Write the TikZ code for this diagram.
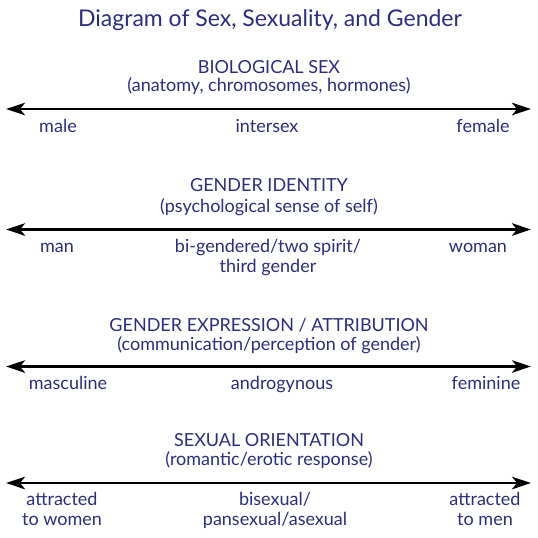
\documentclass[tikz,border=0pt]{standalone}
\usepackage{fontspec}
\setmainfont{Lato}
\usetikzlibrary{arrows.meta}
\definecolor{navy}{RGB}{43,45,125}
\tikzset{
  txt/.style={text=navy, inner sep=0pt, anchor=base, font=\fontsize{18}{20}\selectfont, align=center},
  ttl/.style={text=navy, inner sep=0pt, anchor=base, font=\fontsize{23}{26}\selectfont},
  axis/.style={line width=2.8pt, black, {Stealth[length=19pt,width=12.5pt,inset=5pt]}-{Stealth[length=19pt,width=12.5pt,inset=5pt]}}
}
\begin{document}
\begin{tikzpicture}[x=1pt,y=-1pt]
\useasboundingbox (0,0) rectangle (538,538);
\node[ttl] (title) at (270,27) {Diagram of Sex, Sexuality, and Gender};
% Biological sex
\node[txt] (h1) at (269,73.5) {BIOLOGICAL SEX};
\node[txt] (s1) at (269,91.5) {(anatomy, chromosomes, hormones)};
\coordinate (l1) at (6,109);
\coordinate (r1) at (531,109);
\draw[axis] (l1) -- (r1);
\node[txt] (a1) at (58,132) {male};
\node[txt] (b1) at (267,132) {intersex};
\node[txt] (c1) at (483,132) {female};
% Gender identity
\node[txt] (h2) at (269,191) {GENDER IDENTITY};
\node[txt] (s2) at (269,212) {(psychological sense of self)};
\coordinate (l2) at (6,229.5);
\coordinate (r2) at (531,229.5);
\draw[axis] (l2) -- (r2);
\node[txt] (a2) at (57,252) {man};
\node[txt] (b2) at (268,272) {bi-gendered/two spirit/\\third gender};
\node[txt] (c2) at (478,252) {woman};
% Gender expression
\node[txt] (h3) at (269,331.5) {GENDER EXPRESSION / ATTRIBUTION};
\node[txt] (s3) at (269,350) {(communication/perception of gender)};
\coordinate (l3) at (6,366.5);
\coordinate (r3) at (531,366.5);
\draw[axis] (l3) -- (r3);
\node[txt] (a3) at (68,389) {masculine};
\node[txt] (b3) at (282,389) {androgynous};
\node[txt] (c3) at (486,389) {feminine};
% Sexual orientation
\node[txt] (h4) at (269,446.5) {SEXUAL ORIENTATION};
\node[txt] (s4) at (269,465) {(romantic/erotic response)};
\coordinate (l4) at (6,483);
\coordinate (r4) at (531,483);
\draw[axis] (l4) -- (r4);
\node[txt] (a4) at (62,525.5) {attracted\\to women};
\node[txt] (b4) at (275,525.5) {bisexual/\\pansexual/asexual};
\node[txt] (c4) at (485,525.5) {attracted\\to men};
\end{tikzpicture}
\end{document}
